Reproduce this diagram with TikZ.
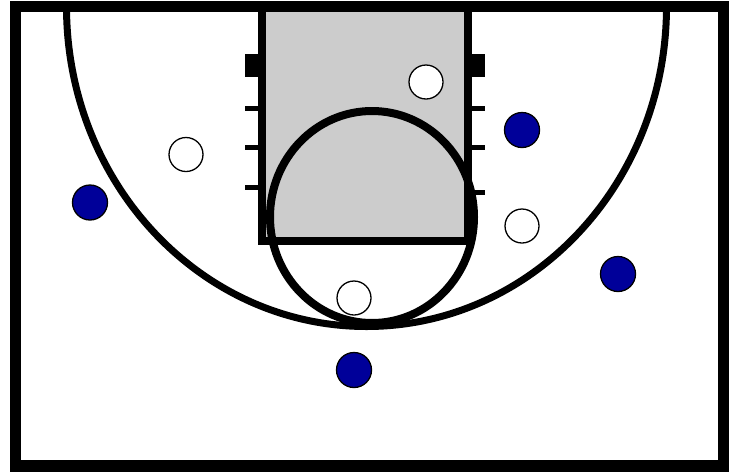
\documentclass[tikz,border=0pt]{standalone}
\begin{document}
\begin{tikzpicture}[x=1pt,y=-1pt,
  court/.style={draw=black,line width=11.5pt},
  courtline/.style={draw=black,line width=7pt},
  hash/.style={draw=black,line width=5pt},
  offense/.style={circle,draw=black,fill=white,line width=1.3pt,minimum size=34pt,inner sep=0pt},
  defense/.style={circle,draw=black,fill=defblue,line width=1.3pt,minimum size=35pt,inner sep=0pt}]
\definecolor{defblue}{HTML}{000099}
\definecolor{lanegray}{HTML}{CCCCCC}
\useasboundingbox (0,0) rectangle (733,472);
\fill[white] (0,0) rectangle (733,472);
% lane
\fill[lanegray] (262,6.5) rectangle (468,241);
% three-point arc
\begin{scope}
\clip (15.4,6.5) rectangle (723.3,466);
\draw[courtline] (66.5,6.5) arc[start angle=180,end angle=0,x radius=300,y radius=320];
\end{scope}
% hash marks
\fill[black] (245,54) rectangle (262,77);
\fill[black] (468,54) rectangle (485,77);
\foreach \yy in {108,147,187}{\draw[hash] (245,\yy) -- (262,\yy);}
\foreach \yy in {108,147,192}{\draw[hash] (468,\yy) -- (485,\yy);}
% lane outline
\draw[courtline,line width=8pt] (262,6.5) -- (262,241) -- (468,241) -- (468,6.5);
% free-throw circle
\draw[courtline,line width=8pt] (372,217) ellipse[x radius=102,y radius=106];
% frame
\draw[court] (15.4,6.5) rectangle (723.3,466);
% players
\node[offense] (o1) at (186,154.5) {};
\node[offense] (o2) at (426,82) {};
\node[offense] (o3) at (522,226) {};
\node[offense] (o4) at (354,298) {};
\node[defense] (d1) at (90,202.5) {};
\node[defense] (d2) at (522,130) {};
\node[defense] (d3) at (618,274) {};
\node[defense] (d4) at (354,370) {};
\end{tikzpicture}
\end{document}
